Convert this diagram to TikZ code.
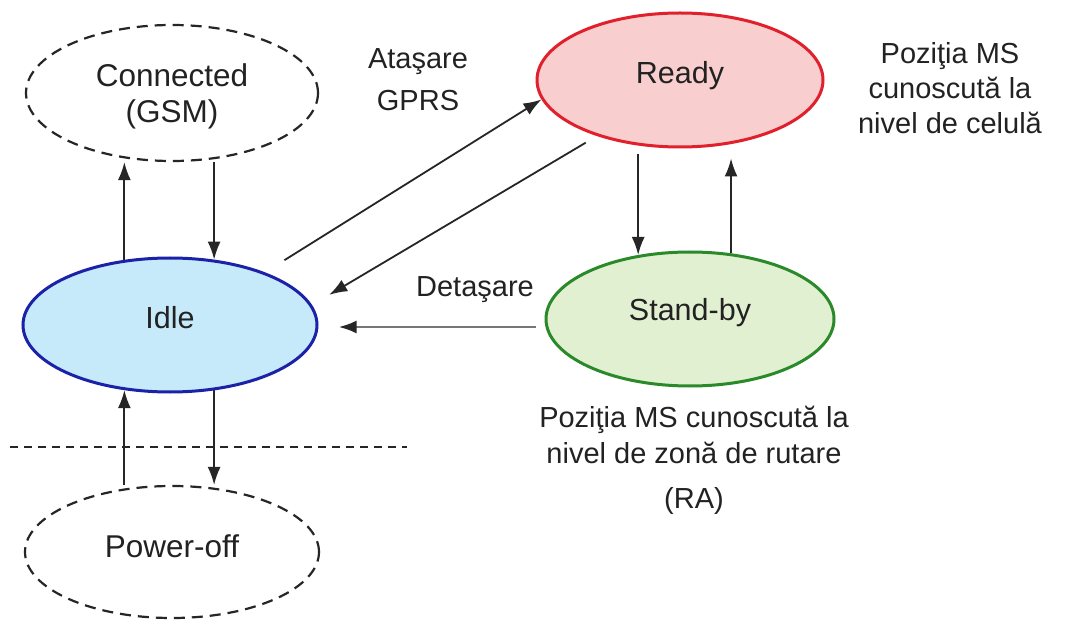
\documentclass[tikz,border=0pt]{standalone}
\usepackage{fontspec}
\setmainfont{Liberation Sans}
\usetikzlibrary{shapes.geometric,arrows.meta}
\definecolor{txt}{HTML}{222222}
\definecolor{readyfill}{HTML}{F9CECE}
\definecolor{readydraw}{HTML}{E0202C}
\definecolor{idlefill}{HTML}{C6EAFA}
\definecolor{idledraw}{HTML}{1C22A8}
\definecolor{sbfill}{HTML}{E2F0D2}
\definecolor{sbdraw}{HTML}{2A8A2A}
\definecolor{grayline}{HTML}{777777}
\tikzset{
  state/.style={ellipse, inner sep=0pt, text=txt, font=\fontsize{30.5}{36}\selectfont,
    text height=22pt, text depth=15pt},
  dstate/.style={ellipse, inner sep=0pt, text=txt, draw=black!85,
    dash pattern=on 11pt off 7pt, line width=2.2pt, font=\fontsize{31.5}{36}\selectfont},
  lbl/.style={text=txt, align=center, inner sep=0pt},
  arr/.style={draw=black!85, line width=1.8pt, -{Latex[length=18pt,width=13pt]}},
}
\begin{document}
\begin{tikzpicture}[x=1pt, y=-1pt]
\useasboundingbox (0,0) rectangle (1074,620);
\fill[white] (0,0) rectangle (1074,620);
% states
\node[dstate, minimum width=292pt, minimum height=136pt, align=center, text depth=0pt] (conn) at (172,93) {Connected\\(GSM)};
\node[state, draw=readydraw, fill=readyfill, line width=3pt,
      minimum width=286pt, minimum height=134pt] (ready) at (680,80) {Ready};
\node[state, draw=idledraw, fill=idlefill, line width=3pt,
      minimum width=294pt, minimum height=134pt] (idle) at (170,325) {Idle};
\node[state, draw=sbdraw, fill=sbfill, line width=3pt,
      minimum width=288pt, minimum height=134pt, text depth=18pt] (standby) at (690,319) {Stand-by};
\node[dstate, minimum width=294pt, minimum height=132pt, text height=22pt, text depth=12pt] (power) at (172,552) {Power-off};
% labels
\node[lbl, font=\fontsize{29}{42}\selectfont] (atasare) at (418,80) {Ataşare\\GPRS};
\node[lbl, font=\fontsize{29}{35}\selectfont] (pozcel) at (950,88) {Poziţia MS\\cunoscută la\\nivel de celulă};
\node[lbl, font=\fontsize{29}{35}\selectfont] (detasare) at (475,290) {Detaşare};
\node[lbl, font=\fontsize{29}{36}\selectfont] (pozra) at (694,460) {Poziţia MS cunoscută la\\nivel de zonă de rutare\\[9pt](RA)};
% separator
\draw[black!85, line width=1.5pt, dash pattern=on 8pt off 6pt] (10,447) -- (407,447);
% connectors
\draw[arr] (idle.125) -- (idle.125 |- conn.south);
\draw[arr] (idle.56 |- conn.south) -- (idle.56);
\draw[arr] (idle.235 |- power.north) -- (idle.235);
\draw[arr] (idle.304) -- (idle.304 |- power.north);
\draw[arr, shorten <=23pt] (idle.29) -- (ready.188);
\draw[arr, shorten <=13pt, shorten >=20pt] (ready.214) -- (idle.8);
\draw[arr] ([yshift=-6pt]ready.south -| standby.129) -- (standby.129);
\draw[arr] (standby.58) -- ([yshift=-10pt]standby.58 |- ready.south);
\draw[draw=grayline, line width=2.8pt, shorten >=20pt, -{Latex[length=18pt,width=13pt,color=black!85]}]
  ([xshift=-9pt,yshift=-8pt]standby.west) -- ([yshift=-2pt]idle.east);
\end{tikzpicture}
\end{document}
